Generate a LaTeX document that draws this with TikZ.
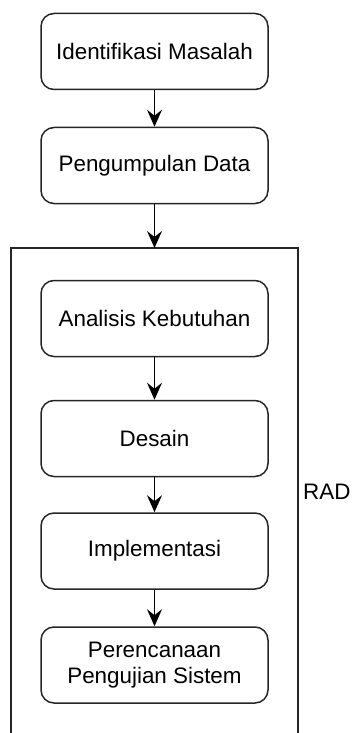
\documentclass[tikz,border=0pt]{standalone}
\usepackage{fontspec}
\setmainfont{Liberation Sans}
\usetikzlibrary{arrows.meta}
\begin{document}
\begin{tikzpicture}[x=1pt,y=-1pt,
  stepbox/.style={draw=black!85, line width=1.5pt, rounded corners=13pt, minimum width=227pt, minimum height=76pt, align=center, font=\fontsize{22.4}{26}\selectfont, inner sep=0pt},
  conn/.style={line width=1.3pt, -{Stealth[length=17pt,width=15pt,inset=6pt]}}]
\useasboundingbox (0,0) rectangle (351,733);
\node[stepbox] (b1) at (154.5,51.5) {Identifikasi Masalah};
\node[stepbox] (b2) at (154.5,165.5) {Pengumpulan Data};
\node[stepbox] (b3) at (154.5,318.5) {Analisis Kebutuhan};
\node[stepbox] (b4) at (154.5,438.5) {Desain};
\node[stepbox] (b5) at (154.5,551) {Implementasi};
\node[stepbox] (b6) at (154.5,665) {Perencanaan\\Pengujian Sistem};
\coordinate (rtop) at (154.5,248);
\draw[line width=1.3pt, draw=black!85] (11,740) -- (11,248) -- (298,248) -- (298,740);
\node[anchor=west, font=\fontsize{22.4}{26}\selectfont, inner sep=0pt] (rad) at (303,492) {RAD};
\draw[conn] (b1) -- (b2);
\draw[conn] (b2) -- (rtop);
\draw[conn] (b3) -- (b4);
\draw[conn] (b4) -- (b5);
\draw[conn] (b5) -- (b6);
\end{tikzpicture}
\end{document}
